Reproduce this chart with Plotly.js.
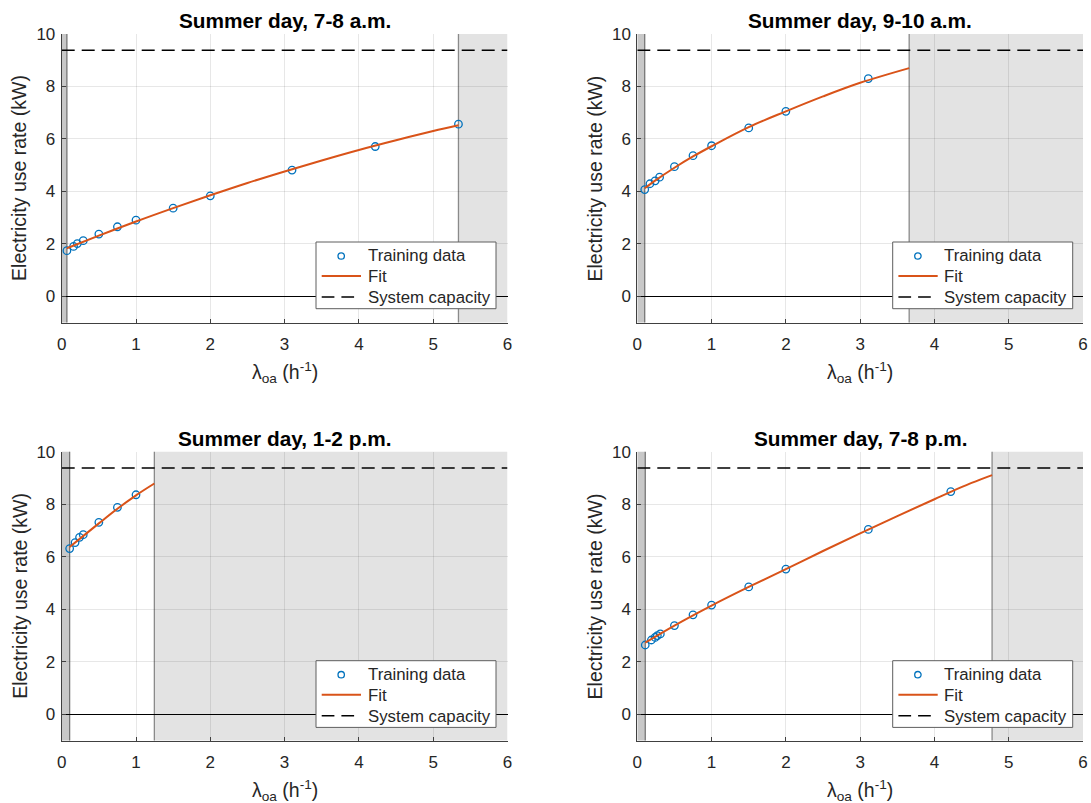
<!DOCTYPE html>
<html><head><meta charset="utf-8">
<script src="https://cdn.plot.ly/plotly-3.0.1.min.js"></script>
<style>html,body{margin:0;padding:0;background:#fff}#chart{width:1091px;height:803px}</style>
</head><body><div id="chart"></div>
<script>
// ---- data ----
const panelTitles = ['Summer day, 7-8 a.m.', 'Summer day, 9-10 a.m.', 'Summer day, 1-2 p.m.', 'Summer day, 7-8 p.m.'];
const seriesNames = ['Training data', 'Fit', 'System capacity'];
const yAxisLabel = 'Electricity use rate (kW)';
const xAxisLabel = 'λ<sub>oa</sub> (h<sup>-1</sup>)';

// 7-8 a.m.
const trainX_7am = [0.07, 0.16, 0.21, 0.29, 0.50, 0.75, 1.00, 1.50, 2.00, 3.10, 4.22, 5.34];
const trainY_7am = [1.74, 1.90, 2.01, 2.12, 2.37, 2.65, 2.90, 3.36, 3.83, 4.81, 5.71, 6.56];
const fitX_7am = [0.07, 0.50, 1.00, 1.50, 2.00, 2.50, 3.00, 3.50, 4.00, 4.50, 5.00, 5.34];
const fitY_7am = [1.83, 2.31, 2.85, 3.36, 3.85, 4.32, 4.76, 5.18, 5.58, 5.95, 6.30, 6.52];
// 9-10 a.m.
const trainX_9am = [0.10, 0.17, 0.24, 0.30, 0.50, 0.75, 1.00, 1.50, 2.00, 3.11];
const trainY_9am = [4.07, 4.29, 4.40, 4.54, 4.94, 5.36, 5.74, 6.42, 7.05, 8.30];
const fitX_9am = [0.10, 0.25, 0.50, 0.75, 1.00, 1.50, 2.00, 2.50, 3.00, 3.66];
const fitY_9am = [4.12, 4.43, 4.90, 5.33, 5.72, 6.45, 7.05, 7.62, 8.14, 8.70];
// 1-2 p.m.
const trainX_1pm = [0.107, 0.18, 0.24, 0.29, 0.50, 0.75, 1.00];
const trainY_1pm = [6.31, 6.54, 6.74, 6.84, 7.31, 7.88, 8.36];
const fitX_1pm = [0.107, 0.25, 0.50, 0.75, 1.00, 1.247];
const fitY_1pm = [6.37, 6.70, 7.27, 7.83, 8.34, 8.79];
// 7-8 p.m.
const trainX_7pm = [0.107, 0.19, 0.24, 0.27, 0.31, 0.50, 0.75, 1.00, 1.50, 2.00, 3.11, 4.22];
const trainY_7pm = [2.64, 2.83, 2.93, 3.00, 3.06, 3.38, 3.79, 4.16, 4.85, 5.53, 7.04, 8.48];
const fitX_7pm = [0.107, 0.50, 1.00, 1.50, 2.00, 2.50, 3.00, 3.50, 4.00, 4.50, 4.776];
const fitY_7pm = [2.73, 3.38, 4.14, 4.85, 5.53, 6.22, 6.89, 7.55, 8.19, 8.81, 9.11];

const systemCapacity = [9.38, 9.38, 9.38, 9.38];
const lowerLimit = [0.07, 0.10, 0.107, 0.107];
const upperLimit = [5.34, 3.66, 1.247, 4.776];
const xRange = [0, 6];
const yRange = [-1, 10];
const yTicks = [0, 2, 4, 6, 8, 10];

// ---- build ----
const FONT = 'Liberation Sans, Arial, Helvetica, sans-serif';
const TXT = '#262626';
const BLUE = '#0072BD', ORANGE = '#D95319';
const trainX = [trainX_7am, trainX_9am, trainX_1pm, trainX_7pm];
const trainY = [trainY_7am, trainY_9am, trainY_1pm, trainY_7pm];
const fitX = [fitX_7am, fitX_9am, fitX_1pm, fitX_7pm];
const fitY = [fitY_7am, fitY_9am, fitY_1pm, fitY_7pm];

const W = 1091, H = 803;
const px = v => v / W;          // pixel -> paper x
const py = v => 1 - v / H;      // pixel -> paper y
const axL = [61.7, 637.3, 61.7, 637.3], axR = [507.5, 1083, 507.5, 1083];
const axT = [34, 34, 451.7, 451.7], axB = [322.5, 322.5, 740.6, 740.6];

const data = [];
const shapes = [];
const annotations = [];
const layout = {
  width: W, height: H,
  margin: {l: 0, r: 0, t: 0, b: 0},
  paper_bgcolor: '#fff', plot_bgcolor: '#fff',
  font: {family: FONT, color: TXT, size: 16},
  showlegend: false,
  shapes: shapes, annotations: annotations
};

for (let i = 0; i < 4; i++) {
  const sfx = i === 0 ? '' : String(i + 1);
  const xa = 'x' + sfx, ya = 'y' + sfx;
  data.push({
    x: trainX[i], y: trainY[i], xaxis: xa, yaxis: ya,
    type: 'scatter', mode: 'markers', name: seriesNames[0],
    marker: {symbol: 'circle-open', size: 7.5, color: BLUE, line: {width: 1.3, color: BLUE}}
  });
  data.push({
    x: fitX[i], y: fitY[i], xaxis: xa, yaxis: ya,
    type: 'scatter', mode: 'lines', name: seriesNames[1],
    line: {color: ORANGE, width: 2, shape: 'spline'}
  });
  data.push({
    x: xRange, y: [systemCapacity[i], systemCapacity[i]], xaxis: xa, yaxis: ya,
    type: 'scatter', mode: 'lines', name: seriesNames[2],
    line: {color: '#000', width: 1.6, dash: '13px,7px'}
  });

  layout['xaxis' + sfx] = {
    domain: [px(axL[i]), px(axR[i])], anchor: ya, range: xRange, dtick: 1, tick0: 0,
    ticks: 'inside', ticklen: 4, tickcolor: '#404040', tickwidth: 1,
    showline: true, linecolor: '#404040', linewidth: 1, mirror: false,
    showgrid: true, gridcolor: 'rgba(38,38,38,0.11)', gridwidth: 1,
    zeroline: false, tickfont: {size: 17, color: TXT}, ticklabelstandoff: 6,
    fixedrange: true
  };
  layout['yaxis' + sfx] = {
    domain: [py(axB[i]), py(axT[i])], anchor: xa, range: yRange, tickvals: yTicks,
    ticks: 'inside', ticklen: 4, tickcolor: '#404040', tickwidth: 1,
    showline: true, linecolor: '#404040', linewidth: 1, mirror: false,
    showgrid: true, gridcolor: 'rgba(38,38,38,0.11)', gridwidth: 1,
    zeroline: true, zerolinecolor: '#000', zerolinewidth: 1.2,
    tickfont: {size: 17, color: TXT}, ticklabelstandoff: 2,
    fixedrange: true
  };

  // shaded regions outside the valid range
  shapes.push({type: 'rect', xref: xa, yref: ya + ' domain', x0: xRange[0], x1: lowerLimit[i], y0: 0, y1: 1,
    fillcolor: '#c8c8c8', line: {width: 0}, layer: 'below'});
  shapes.push({type: 'rect', xref: xa, yref: ya + ' domain', x0: upperLimit[i], x1: xRange[1], y0: 0, y1: 1,
    fillcolor: '#e3e3e3', line: {width: 0}, layer: 'below'});
  shapes.push({type: 'line', xref: xa, yref: ya + ' domain', x0: lowerLimit[i], x1: lowerLimit[i], y0: 0, y1: 1,
    line: {color: '#6e6e6e', width: 1.2}, layer: 'below'});
  shapes.push({type: 'line', xref: xa, yref: ya + ' domain', x0: upperLimit[i], x1: upperLimit[i], y0: 0, y1: 1,
    line: {color: '#8a8a8a', width: 1.3}, layer: 'below'});

  // legend box (MATLAB style)
  const L = i % 2 === 0 ? 316 : 892.7;
  const T = i < 2 ? 242 : 660.7;
  shapes.push({type: 'rect', xref: 'paper', yref: 'paper', x0: px(L), x1: px(L + 180), y0: py(T + 66.7), y1: py(T),
    fillcolor: '#fff', line: {color: '#5e5e5e', width: 1}, layer: 'above'});
  shapes.push({type: 'circle', xref: 'paper', yref: 'paper', x0: px(L + 22), x1: px(L + 28.4), y0: py(T + 17.2), y1: py(T + 10.8),
    line: {color: BLUE, width: 1.3}, fillcolor: 'rgba(0,0,0,0)', layer: 'above'});
  shapes.push({type: 'line', xref: 'paper', yref: 'paper', x0: px(L + 5.7), x1: px(L + 45), y0: py(T + 34), y1: py(T + 34),
    line: {color: ORANGE, width: 2}, layer: 'above'});
  shapes.push({type: 'line', xref: 'paper', yref: 'paper', x0: px(L + 5.7), x1: px(L + 45), y0: py(T + 55), y1: py(T + 55),
    line: {color: '#000', width: 1.6, dash: '12.7px,7px'}, layer: 'above'});
  const rowY = [T + 14, T + 34.3, T + 55.3];
  for (let k = 0; k < 3; k++) {
    annotations.push({text: seriesNames[k], xref: 'paper', yref: 'paper', x: px(L + 49.5), y: py(rowY[k]),
      xanchor: 'left', yanchor: 'middle', showarrow: false,
      font: {size: 16.8, color: TXT, family: FONT}});
  }

  // panel title
  const cx = px((axL[i] + axR[i]) / 2);
  const ty = i < 2 ? 20.5 : 438.5;
  annotations.push({text: '<b>' + panelTitles[i] + '</b>', xref: 'paper', yref: 'paper',
    x: cx, y: py(ty), xanchor: 'center', yanchor: 'middle', showarrow: false,
    font: {size: 20.8, color: '#000', family: FONT}});
  // y label
  annotations.push({text: yAxisLabel, xref: 'paper', yref: 'paper', x: px(axL[i] - 42),
    y: py((axT[i] + axB[i]) / 2),
    xanchor: 'center', yanchor: 'middle', textangle: -90, showarrow: false,
    font: {size: 19.5, color: TXT, family: FONT}});
  // x label
  const xly = i < 2 ? 372 : 790;
  annotations.push({text: xAxisLabel, xref: 'paper', yref: 'paper', x: cx, y: py(xly),
    xanchor: 'center', yanchor: 'middle', showarrow: false,
    font: {size: 19.5, color: TXT, family: FONT}});
}

Plotly.newPlot('chart', data, layout, {displayModeBar: false, staticPlot: true});
</script>
</body></html>
